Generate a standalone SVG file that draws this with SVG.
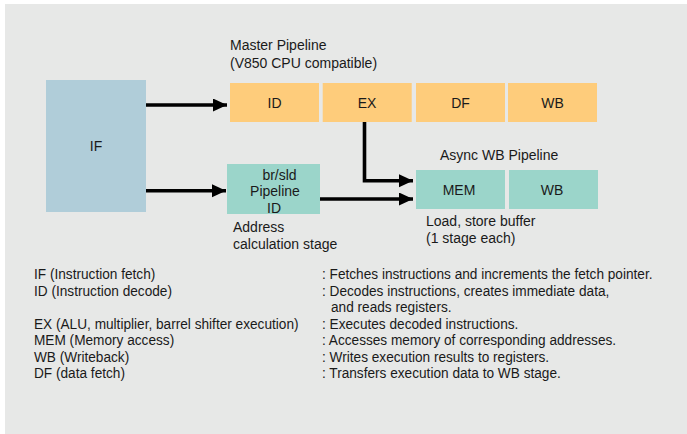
<svg xmlns="http://www.w3.org/2000/svg" width="687" height="434" viewBox="0 0 687 434">
<style>
text{font-family:"Liberation Sans",Arial,sans-serif;font-size:14px;fill:#1a1a1a}
.c{text-anchor:middle}
.lg{font-size:15px}
.or{fill:#fecc7b}
.tl{fill:#9bd5ca}
.cn{stroke:#000;stroke-width:3.6;fill:none}
</style>
<defs>
<marker id="ah" markerUnits="userSpaceOnUse" markerWidth="15" markerHeight="14" refX="14" refY="6.5" orient="auto">
<path d="M0,0 L14,6.5 L0,13 z" fill="#000"/>
</marker>
</defs>
<rect x="5" y="4" width="682" height="430" fill="#e7e8e7"/>
<text x="230" y="50">Master Pipeline</text>
<text x="230" y="68">(V850 CPU compatible)</text>
<text x="440" y="160">Async WB Pipeline</text>
<g id="IF"><rect x="46" y="80" width="100" height="132" fill="#b0cdd9"/><text class="c" x="96" y="151">IF</text></g>
<g id="ID"><rect class="or" x="230" y="83" width="89" height="39"/><text class="c" x="274.5" y="108">ID</text></g>
<g id="EX"><rect class="or" x="322.7" y="83" width="89" height="39"/><text class="c" x="367" y="108">EX</text></g>
<g id="DF"><rect class="or" x="416" y="83" width="89" height="39"/><text class="c" x="460.5" y="108">DF</text></g>
<g id="WB1"><rect class="or" x="508" y="83" width="89" height="39"/><text class="c" x="552.5" y="108">WB</text></g>
<g id="BRSLD"><rect class="tl" x="227" y="164" width="93" height="50"/><text class="c" x="279.5" y="180">br/sld</text><text class="c" x="275" y="196">Pipeline</text><text class="c" x="274" y="212.5">ID</text></g>
<g id="MEM"><rect class="tl" x="416" y="170" width="89" height="39"/><text class="c" x="459" y="195">MEM</text></g>
<g id="WB2"><rect class="tl" x="509" y="170" width="89" height="39"/><text class="c" x="552" y="195">WB</text></g>
<text x="233" y="232">Address</text>
<text x="233" y="249">calculation stage</text>
<text x="426" y="226">Load, store buffer</text>
<text x="426" y="243">(1 stage each)</text>
<g id="connectors">
<path class="cn" d="M146,105 H227" marker-end="url(#ah)"/>
<path class="cn" d="M146,190.7 H226" marker-end="url(#ah)"/>
<path class="cn" d="M364.5,122 V180.7 H413" marker-end="url(#ah)"/>
<path class="cn" d="M320,199 H413" marker-end="url(#ah)"/>
</g>
<g id="legend" transform="translate(34,0) scale(0.91,1)">
<text class="lg" x="0" y="279">IF (Instruction fetch)</text>
<text class="lg" x="0" y="295.5">ID (Instruction decode)</text>
<text class="lg" x="0" y="329">EX (ALU, multiplier, barrel shifter execution)</text>
<text class="lg" x="0" y="345.5">MEM (Memory access)</text>
<text class="lg" x="0" y="362">WB (Writeback)</text>
<text class="lg" x="0" y="378.5">DF (data fetch)</text>
<text class="lg" x="316.5" y="279">: Fetches instructions and increments the fetch pointer.</text>
<text class="lg" x="316.5" y="295.5">: Decodes instructions, creates immediate data,</text>
<text class="lg" x="326.4" y="312">and reads registers.</text>
<text class="lg" x="316.5" y="329">: Executes decoded instructions.</text>
<text class="lg" x="316.5" y="345.5">: Accesses memory of corresponding addresses.</text>
<text class="lg" x="316.5" y="362">: Writes execution results to registers.</text>
<text class="lg" x="316.5" y="378.5">: Transfers execution data to WB stage.</text>
</g>
</svg>
